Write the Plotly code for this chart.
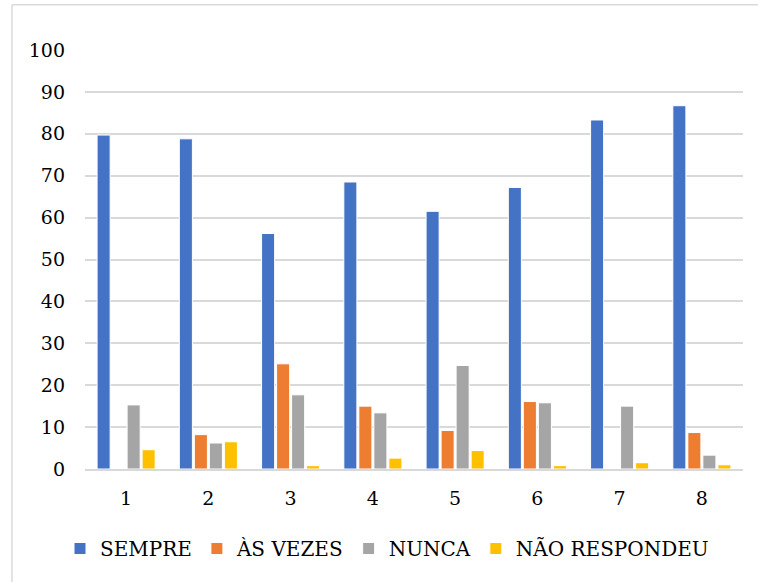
import plotly.graph_objects as go

# Categories on the x axis (question number)
categories = ["1", "2", "3", "4", "5", "6", "7", "8"]

# Percentage of answers per category
sempre = [79.7, 78.8, 56.2, 68.5, 61.5, 67.2, 83.3, 86.7]
as_vezes = [0, 8.2, 25.1, 15.0, 9.2, 16.1, 0, 8.7]
nunca = [15.3, 6.2, 17.7, 13.4, 24.7, 15.8, 15.0, 3.3]
nao_respondeu = [4.6, 6.5, 0.8, 2.6, 4.4, 0.8, 1.5, 1.0]

series_names = ["SEMPRE", "ÀS VEZES", "NUNCA", "NÃO RESPONDEU"]
series_values = [sempre, as_vezes, nunca, nao_respondeu]
series_colors = ["#4472C4", "#ED7D31", "#A5A5A5", "#FFC000"]

y_ticks = list(range(0, 101, 10))

FONT = "DejaVu Serif"
GRID = "#d9d9d9"

fig = go.Figure()
for name, vals, color in zip(series_names, series_values, series_colors):
    fig.add_trace(
        go.Bar(
            x=categories,
            y=vals,
            name=name,
            marker=dict(color=color, line=dict(color="white", width=1)),
        )
    )

fig.update_layout(
    width=758,
    height=582,
    margin=dict(l=85, r=15, t=50, b=113, autoexpand=False),
    paper_bgcolor="white",
    plot_bgcolor="white",
    barmode="group",
    bargap=0.27,
    bargroupgap=0.13,
    font=dict(family=FONT, size=19, color="#000000"),
    showlegend=True,
    legend=dict(
        orientation="h",
        xref="container",
        yref="container",
        x=60 / 758,
        xanchor="left",
        y=1 - 548.5 / 582,
        yanchor="middle",
        font=dict(family=FONT, size=20, color="#000000"),
        itemwidth=30,
        traceorder="normal",
    ),
    xaxis=dict(
        type="category",
        showgrid=False,
        showline=True,
        linecolor=GRID,
        linewidth=1.5,
        ticks="",
        ticklabelstandoff=11,
        tickfont=dict(family=FONT, size=19),
    ),
    yaxis=dict(
        range=[0, 100],
        tickvals=y_ticks,
        showgrid=True,
        gridcolor=GRID,
        gridwidth=1.5,
        zeroline=False,
        showline=False,
        ticks="",
        ticklabelstandoff=19,
        tickfont=dict(family=FONT, size=19),
    ),
    shapes=[
        # chart-area border (left and top edges)
        dict(type="line", xref="paper", yref="paper",
             x0=-0.111, x1=-0.111, y0=-0.4, y1=1.108,
             line=dict(color=GRID, width=1.5)),
        dict(type="line", xref="paper", yref="paper",
             x0=-0.111, x1=1.1, y0=1.108, y1=1.108,
             line=dict(color=GRID, width=1.5)),
    ],
)

fig.write_html("out.html")
